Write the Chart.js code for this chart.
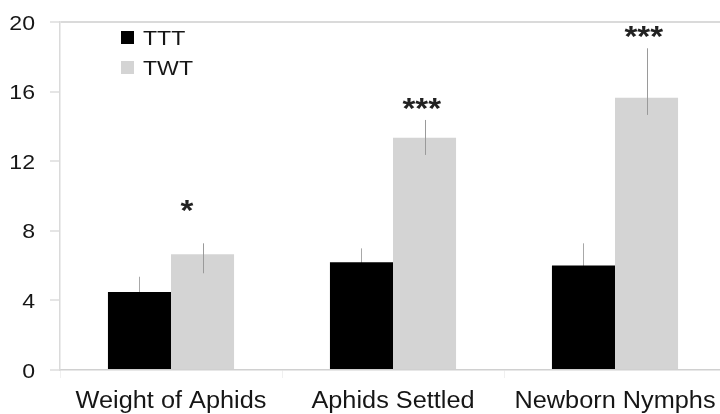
<!DOCTYPE html>
<html>
<head>
<meta charset="utf-8">
<script src="https://cdn.jsdelivr.net/npm/chart.js@4.4.0/dist/chart.umd.min.js"></script>
<style>
  html, body { margin: 0; padding: 0; background: #fff; overflow: hidden; width: 720px; height: 414px; }
  #wrap { width: 726px; height: 414px; }
  canvas { display: block; }
</style>
</head>
<body>
<div id="wrap"><canvas id="c" width="726" height="414"></canvas></div>
<script>
// ---- data ----
const categories = ['Weight of Aphids', 'Aphids Settled', 'Newborn Nymphs'];
const seriesNames = ['TTT', 'TWT'];
const tttValues = [4.48, 6.19, 6.0];
const tttErrUp = [0.88, 0.8, 1.28];
const tttErrDown = [0.88, 0.8, 1.28];
const twtValues = [6.65, 13.35, 15.65];
const twtErrUp = [0.63, 1.02, 2.84];
const twtErrDown = [1.09, 0.99, 0.99];
const sigLabels = ['*', '***', '***'];
const sigLevel = [9.4, 15.3, 19.4];
const yTicks = [0, 4, 8, 12, 16, 20];

const TEXT = '#161616';
const SX = 1.1;
const FONT = '"Liberation Sans", Arial, sans-serif';

function wideText(ctx, text, x, y, align, font, color) {
  ctx.save();
  ctx.font = font;
  ctx.textBaseline = 'alphabetic';
  ctx.textAlign = 'left';
  const w = ctx.measureText(text).width * SX;
  const left = align === 'center' ? x - w / 2 : (align === 'right' ? x - w : x);
  ctx.translate(left, y);
  ctx.scale(SX, 1);
  ctx.fillStyle = color;
  ctx.fillText(text, 0, 0);
  ctx.restore();
}

const errors = [[tttErrUp, tttErrDown], [twtErrUp, twtErrDown]];

function drawErrors(chart, i, color) {
  const ctx = chart.ctx;
  const y = chart.scales.y;
  const ds = chart.data.datasets[i];
  const meta = chart.getDatasetMeta(i);
  meta.data.forEach((bar, j) => {
    const v = ds.data[j];
    const top = y.getPixelForValue(v + errors[i][0][j]);
    const bot = y.getPixelForValue(v - errors[i][1][j]);
    ctx.save();
    ctx.strokeStyle = color;
    ctx.lineWidth = 1;
    ctx.beginPath();
    ctx.moveTo(Math.round(bar.x) + 0.5, top);
    ctx.lineTo(Math.round(bar.x) + 0.5, bot);
    ctx.stroke();
    ctx.restore();
  });
}

const decor = {
  id: 'decor',
  beforeDatasetsDraw(chart) {
    // TTT error bars sit behind the black bars
    drawErrors(chart, 0, '#a8a8a8');
  },
  afterDatasetsDraw(chart) {
    drawErrors(chart, 1, '#9a9a9a');
  },
  afterDraw(chart) {
    const ctx = chart.ctx;
    const ys = chart.scales.y;
    const xs = chart.scales.x;
    ys.ticks.forEach(t => {
      const py = ys.getPixelForValue(t.value);
      wideText(ctx, String(t.value), 35, py + 7.5, 'right', '21px ' + FONT, TEXT);
    });
    categories.forEach((c, i) => {
      wideText(ctx, c, xs.getPixelForValue(i), 408, 'center', '23px ' + FONT, TEXT);
    });
    const meta = chart.getDatasetMeta(1);
    sigLabels.forEach((s, j) => {
      const bx = meta.data[j].x;
      const py = ys.getPixelForValue(sigLevel[j]);
      wideText(ctx, s, bx - 22, py + 14, 'left', 'bold 30px ' + FONT, '#222');
    });
    const lx = 121;
    const rows = [45, 75];
    chart.data.datasets.forEach((ds, i) => {
      ctx.save();
      ctx.fillStyle = ds.backgroundColor;
      ctx.fillRect(lx, rows[i] - 14, 13, 13);
      ctx.restore();
      wideText(ctx, ds.label, 143, rows[i], 'left', '21px ' + FONT, TEXT);
    });
  }
};

new Chart(document.getElementById('c'), {
  type: 'bar',
  data: {
    labels: categories,
    datasets: [
      { label: seriesNames[0], data: tttValues, backgroundColor: '#000000' },
      { label: seriesNames[1], data: twtValues, backgroundColor: '#d4d4d4' }
    ]
  },
  options: {
    responsive: false,
    animation: false,
    devicePixelRatio: 1,
    layout: { padding: { top: 22, right: 0, left: 0, bottom: 0 } },
    plugins: { legend: { display: false }, tooltip: { enabled: false } },
    datasets: { bar: { barPercentage: 1.0, categoryPercentage: 0.568, borderWidth: 0 } },
    scales: {
      x: {
        ticks: { display: false },
        grid: { offset: true, color: 'rgba(0,0,0,0)', drawTicks: true, tickLength: 8, tickColor: '#f0f0f0' },
        border: { color: '#d0d0d0', width: 1.5 },
        afterFit(scale) { scale.height = 44; }
      },
      y: {
        min: 0, max: 20,
        afterBuildTicks(scale) { scale.ticks = yTicks.map(v => ({ value: v })); },
        ticks: { display: false },
        grid: {
          color: c => (c.tick && c.tick.value === 20) ? '#dadada' : 'rgba(0,0,0,0)',
          lineWidth: 2,
          drawTicks: true, tickLength: 10, tickColor: '#dcdcdc', tickWidth: 1.5
        },
        border: { color: '#dadada', width: 1.5 },
        afterFit(scale) { scale.width = 60; }
      }
    }
  },
  plugins: [decor]
});
</script>
</body>
</html>
